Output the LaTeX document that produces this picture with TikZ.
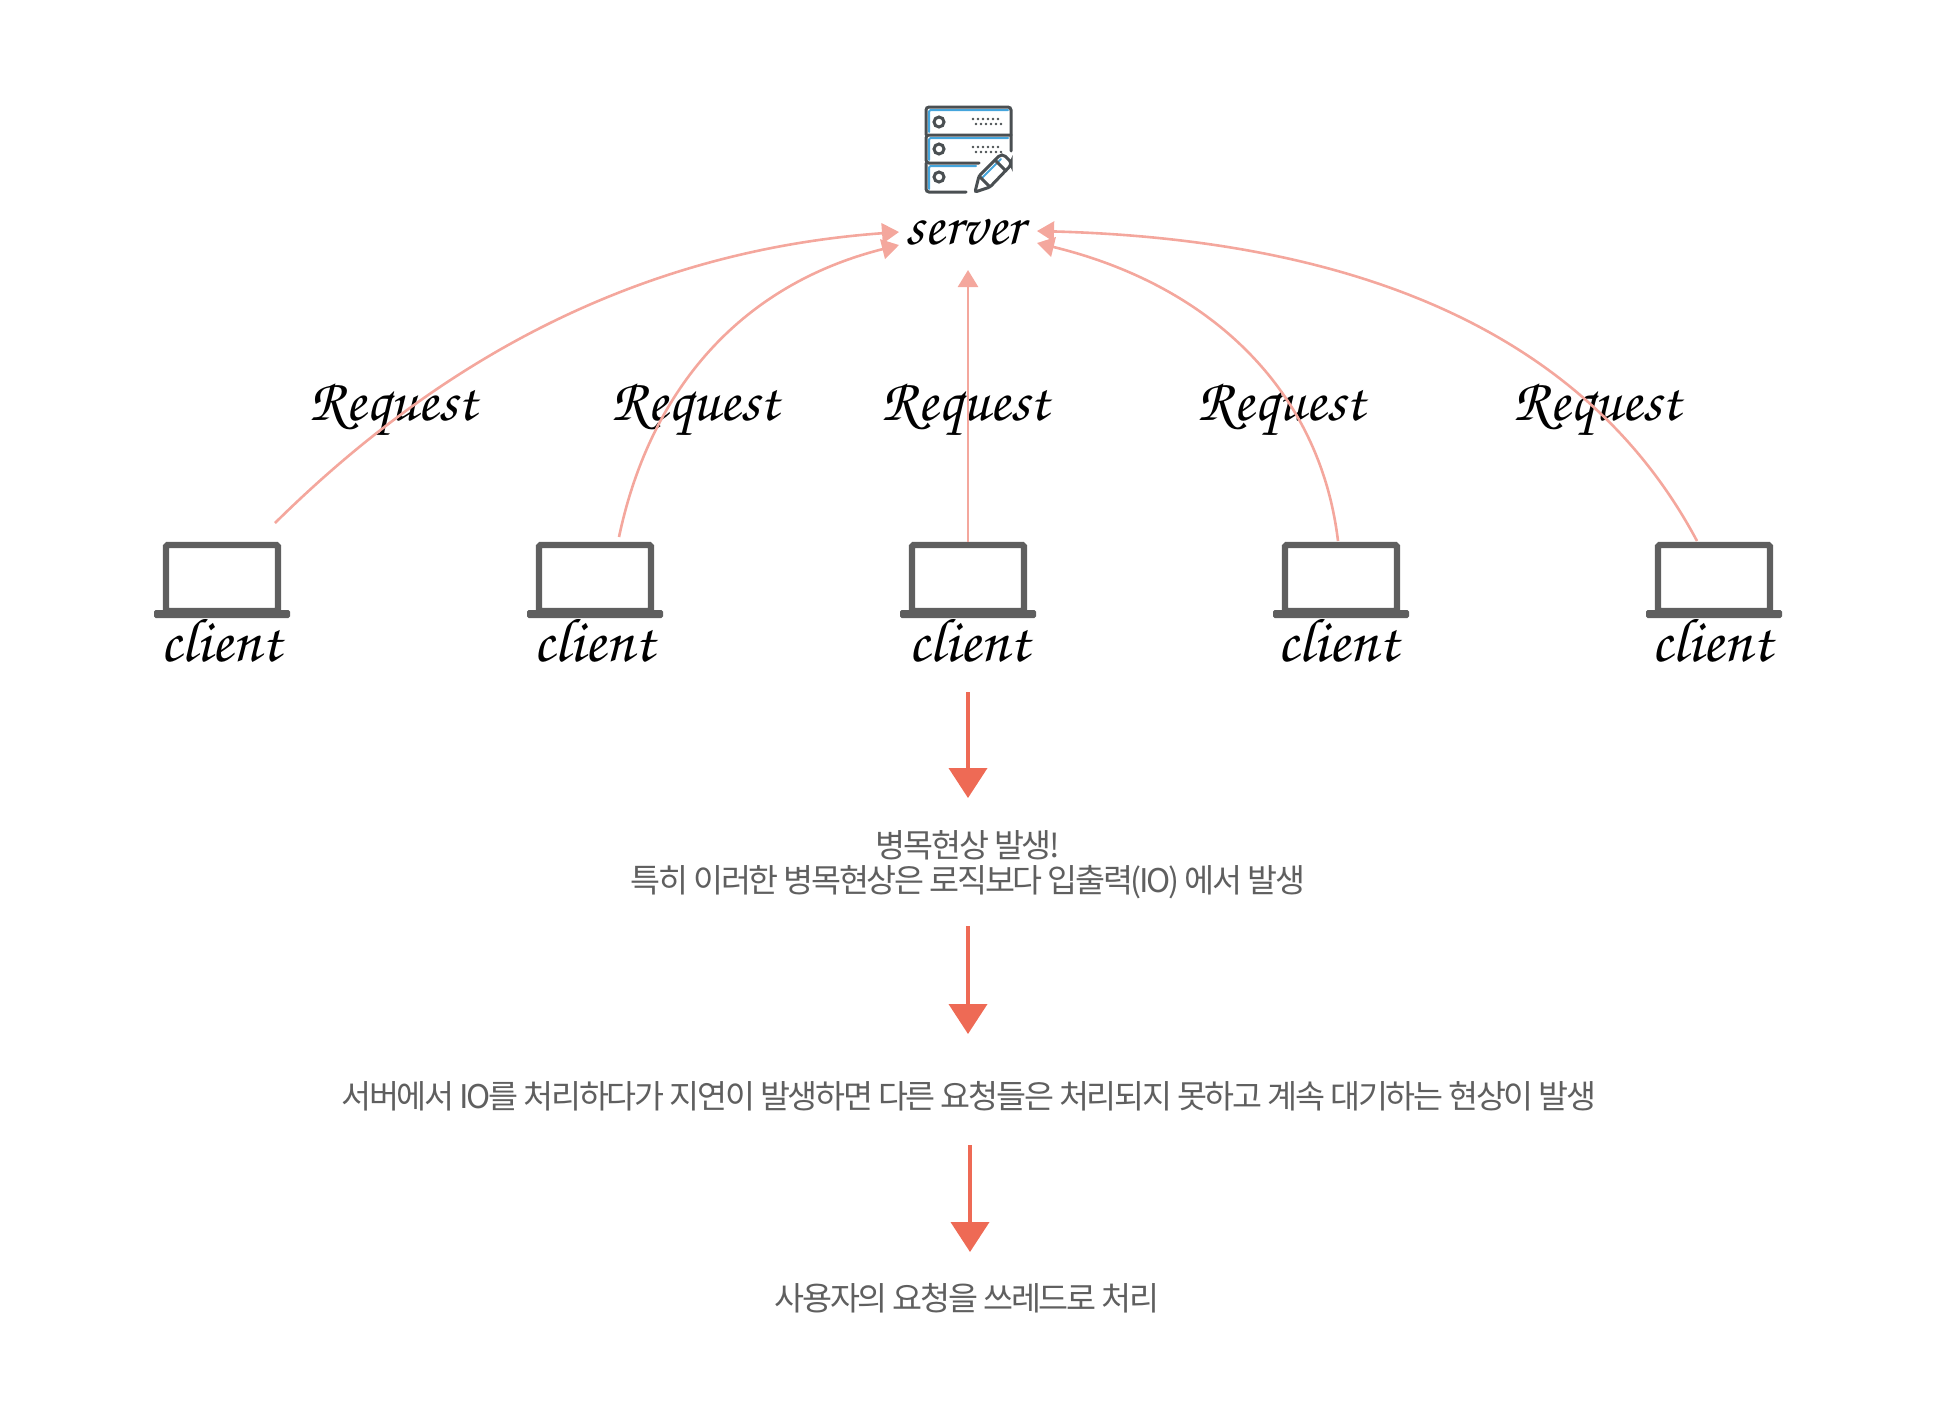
\documentclass[tikz,border=0pt]{standalone}
\usepackage[T1,TU]{fontenc}
\usepackage{fontspec}
\usetikzlibrary{arrows.meta}
\newfontfamily\krfont[LetterSpace=-7]{Noto Sans CJK KR}
\newcommand{\hand}{\usefont{T1}{pzc}{mb}{it}}
\definecolor{salmon}{HTML}{F4A79D}
\definecolor{coral}{HTML}{EE6A55}
\definecolor{lapgray}{HTML}{5F5F5F}
\definecolor{icongray}{HTML}{4A4F52}
\definecolor{iconblue}{HTML}{45A5DC}
\tikzset{
  req/.style={draw=salmon,line width=1.3pt,-{Triangle[length=8.5pt,width=10pt,fill=salmon]}},
  flow/.style={draw=coral,line width=2pt,-{Triangle[length=15pt,width=19pt,fill=coral]}},
  screen/.style={draw=lapgray,line width=3.2pt,rounded corners=0.8pt,minimum width=56pt,minimum height=33pt,inner sep=0pt},
  lapbase/.style={fill=lapgray,rounded corners=0.8pt,minimum width=68pt,minimum height=4pt,inner sep=0pt},
  handtext/.style={font=\hand\fontsize{31}{31}\selectfont,text=black,inner sep=0pt},
  srvtext/.style={font=\hand\fontsize{29}{29}\selectfont,text=black,inner sep=0pt},
  reqtext/.style={font=\hand\fontsize{30}{30}\selectfont,text=black,inner sep=0pt},
  krtext/.style={font=\krfont\fontsize{16.3}{16.3}\selectfont,text=lapgray,inner sep=0pt,align=center},
  iconline/.style={draw=icongray,line width=1.5pt,rounded corners=1.5pt,line cap=round},
  iconblueline/.style={draw=iconblue,line width=1pt,rounded corners=1pt,line cap=round},
}
\begin{document}
\begin{tikzpicture}[x=0.5pt,y=-0.5pt]
\useasboundingbox (0,0) rectangle (1960,1410);
% server icon
\draw[iconblueline] (929,132) -- (929,110) -- (1008,110);
\draw[iconblueline] (929,160) -- (929,138) -- (1008,138);
\draw[iconblueline] (929,189) -- (929,166) -- (976,166);
\draw[iconline] (926,135) -- (926,107) -- (1011,107) -- (1011,151);
\draw[iconline] (1011,135) -- (926,135) -- (926,163) -- (979,163);
\draw[iconline] (926,163) -- (926,192) -- (966,192);
\draw[iconline,sharp corners] (939,122) circle (5);
\draw[iconline,sharp corners] (939,149) circle (5);
\draw[iconline,sharp corners] (939,177) circle (5);
\foreach \dx in {0,5,...,25}{
  \fill[icongray] (973+\dx,119) circle (1.4);
  \fill[icongray] (976+\dx,124) circle (1.4);
  \fill[icongray] (973+\dx,147) circle (1.4);
  \fill[icongray] (976+\dx,152) circle (1.4);
}
\draw[iconblueline,sharp corners] (982,178) -- (1001,159);
\draw[iconline,rounded corners=1pt] (975,192) -- (979,176) -- (1000,155) -- (1004,155) -- (1011,162) -- (1011,165) -- (990,187) -- cycle;
\draw[iconline,sharp corners] (995,160) -- (1006,171);
\draw[iconline,sharp corners] (979,176) -- (990,187);
% server label
\node[srvtext] (srv) at (965,231) {server};
\coordinate (srvL1) at (899,232);
\coordinate (srvL2) at (899,245);
\coordinate (srvB) at (968,270);
\coordinate (srvR1) at (1037,231);
\coordinate (srvR2) at (1037,243);
% clients
\foreach \i/\x/\tx in {1/222/221,2/595/594,3/968/969,4/1341/1338,5/1714/1712}{
  \node[lapbase] (base\i) at (\x,614) {};
  \node[screen] (lap\i) at (\x,578) {};
  \node[handtext] (client\i) at (\tx,640) {client};
}
% request labels
\node[reqtext] (r1) at (393,410) {Request};
\node[reqtext] (r2) at (695,410) {Request};
\node[reqtext] (r3) at (965,410) {Request};
\node[reqtext] (r4) at (1281,410) {Request};
\node[reqtext] (r5) at (1597,410) {Request};
% request arrows
\coordinate (s1) at (275,523);
\coordinate (s2) at (619,537);
\coordinate (s4) at (1338,541);
\coordinate (s5) at (1697,541);
\draw[req] (s1) .. controls (450,350) and (650,250) .. (srvL1);
\draw[req] (s2) .. controls (650,390) and (740,285) .. (srvL2);
\draw[req] (lap3.north) -- (srvB);
\draw[req] (s4) .. controls (1320,390) and (1210,285) .. (srvR2);
\draw[req] (s5) .. controls (1590,340) and (1370,240) .. (srvR1);
% flow
\coordinate (a1) at (968,692);
\coordinate (a2) at (968,926);
\coordinate (a3) at (970,1145);
\node[krtext] (t1a) at (968,845) {병목현상 발생!};
\node[krtext] (t1b) at (968,882) {특히 이러한 병목현상은 로직보다 입출력(IO) 에서 발생};
\node[krtext] (t2) at (969,1096) {서버에서 IO를 처리하다가 지연이 발생하면 다른 요청들은 처리되지 못하고 계속 대기하는 현상이 발생};
\node[krtext] (t3) at (967,1298) {사용자의 요청을 쓰레드로 처리};
\coordinate (b1) at (968,798);
\coordinate (b2) at (968,1034);
\coordinate (b3) at (970,1252);
\draw[flow] (a1) -- (b1);
\draw[flow] (a2) -- (b2);
\draw[flow] (a3) -- (b3);
\end{tikzpicture}
\end{document}
